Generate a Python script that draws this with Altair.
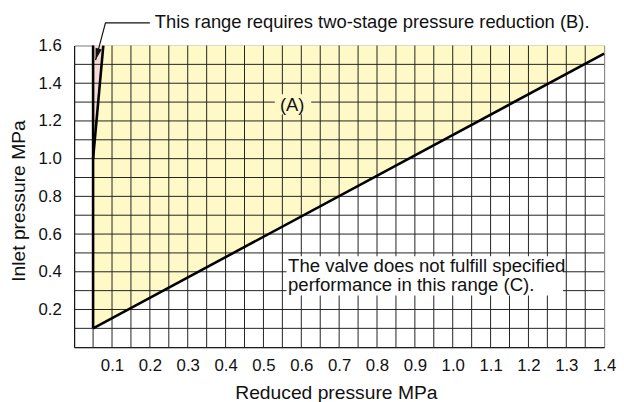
import altair as alt
import pandas as pd

# ---- data ----
x_tick_values = [0.1, 0.2, 0.3, 0.4, 0.5, 0.6, 0.7, 0.8, 0.9, 1.0, 1.1, 1.2, 1.3, 1.4]
y_tick_values = [0.2, 0.4, 0.6, 0.8, 1.0, 1.2, 1.4, 1.6]
x_grid = [0.05, 0.1, 0.15, 0.2, 0.25, 0.3, 0.35, 0.4, 0.45, 0.5, 0.55, 0.6, 0.65,
          0.7, 0.75, 0.8, 0.85, 0.9, 0.95, 1.0, 1.05, 1.1, 1.15, 1.2, 1.25, 1.3, 1.35]
y_grid = [0.1, 0.2, 0.3, 0.4, 0.5, 0.6, 0.7, 0.8, 0.9, 1.0, 1.1, 1.2, 1.3, 1.4, 1.5]

# lower limit line (boundary of range C)
limit_x = [0.05, 1.4]
limit_y = [0.1, 1.557]
# two-stage boundary (range B)
b_x = [0.05, 0.077]
b_y = [1.0, 1.6]
# vertical minimum reduced pressure
min_x = [0.05, 0.05]
min_y = [0.1, 1.6]

# annotations
note_b = "This range requires two-stage pressure reduction (B)."
note_a = "(A)"
note_c = "The valve does not fulfill specified\nperformance in this range (C)."
arrow_x = [0.2, 0.0827, 0.0566]
arrow_y = [1.72, 1.72, 1.523]

FONT = "Liberation Sans"
YELLOW = "#FFF9C8"
PINK = "#F9DAD6"

xs = alt.Scale(domain=[0, 1.4], nice=False, zero=False)
ys = alt.Scale(domain=[0, 1.6], nice=False, zero=False)

# fills
df_a = pd.DataFrame({"x": limit_x, "y": limit_y, "y2": [1.6, 1.6]})
area_a = alt.Chart(df_a).mark_area(color=YELLOW, opacity=1).encode(
    x=alt.X("x:Q", scale=xs,
            axis=alt.Axis(values=x_tick_values, format=".1f", grid=False, ticks=False,
                          tickSize=0, labelPadding=11, labelFontSize=17, labelFont=FONT,
                          labelColor="#111", domainColor="#000", title="Reduced pressure MPa",
                          titleFont=FONT, titleFontSize=19.5, titleFontWeight="normal",
                          titleColor="#111", titleBaseline="alphabetic", titleY=51.5,
                          titleX=265, labelFlush=False)),
    y=alt.Y("y:Q", scale=ys,
            axis=alt.Axis(values=y_tick_values, format=".1f", grid=False, ticks=False,
                          tickSize=0, labelPadding=13, labelFontSize=17, labelFont=FONT,
                          labelColor="#111", domainColor="#000", title="Inlet pressure MPa",
                          titleFont=FONT, titleFontSize=19.5, titleFontWeight="normal",
                          titleColor="#111", titleBaseline="alphabetic", titleX=-50,
                          titleY=157, titleAngle=-90, labelFlush=False)),
    y2="y2:Q",
)

df_b = pd.DataFrame({"x": b_x, "y": b_y, "y2": [1.6, 1.6]})
area_b = alt.Chart(df_b).mark_area(color=PINK, opacity=1).encode(
    x=alt.X("x:Q", scale=xs), y=alt.Y("y:Q", scale=ys), y2="y2:Q")

# grid
vgrid = alt.Chart(pd.DataFrame({"x": x_grid})).mark_rule(color="#222", strokeWidth=1).encode(
    x=alt.X("x:Q", scale=xs))
hgrid = alt.Chart(pd.DataFrame({"y": y_grid})).mark_rule(color="#222", strokeWidth=1).encode(
    y=alt.Y("y:Q", scale=ys))

# knockouts behind labels
ko = pd.DataFrame({"x": [0.53, 0.561], "x2": [0.626, 1.291],
                   "y": [1.236, 0.274], "y2": [1.341, 0.482],
                   "c": [YELLOW, "#FFFFFF"]})
knock = alt.Chart(ko).mark_rect().encode(
    x=alt.X("x:Q", scale=xs), x2="x2:Q", y=alt.Y("y:Q", scale=ys), y2="y2:Q",
    color=alt.Color("c:N", scale=None))

# thick lines
line_c = alt.Chart(pd.DataFrame({"x": limit_x, "y": limit_y})).mark_line(
    color="#000", strokeWidth=2.6).encode(x=alt.X("x:Q", scale=xs), y=alt.Y("y:Q", scale=ys))
line_b = alt.Chart(pd.DataFrame({"x": b_x, "y": b_y})).mark_line(
    color="#000", strokeWidth=2.6).encode(x=alt.X("x:Q", scale=xs), y=alt.Y("y:Q", scale=ys))
line_min = alt.Chart(pd.DataFrame({"x": min_x, "y": min_y})).mark_line(
    color="#000", strokeWidth=2.6).encode(x=alt.X("x:Q", scale=xs), y=alt.Y("y:Q", scale=ys))

# texts
txt_b = alt.Chart(pd.DataFrame({"x": [0.213], "y": [1.694], "t": [note_b]})).mark_text(
    align="left", baseline="alphabetic", font=FONT, fontSize=18.6, color="#111").encode(
    x=alt.X("x:Q", scale=xs), y=alt.Y("y:Q", scale=ys), text="t:N")
txt_a = alt.Chart(pd.DataFrame({"x": [0.576], "y": [1.252], "t": [note_a]})).mark_text(
    align="center", baseline="alphabetic", font=FONT, fontSize=18.6, color="#111").encode(
    x=alt.X("x:Q", scale=xs), y=alt.Y("y:Q", scale=ys), text="t:N")
txt_c = alt.Chart(pd.DataFrame({"x": [0.565], "y": [0.4], "t": [note_c]})).mark_text(
    align="left", baseline="alphabetic", font=FONT, fontSize=18.8, color="#111",
    lineBreak="\n", lineHeight=19).encode(
    x=alt.X("x:Q", scale=xs), y=alt.Y("y:Q", scale=ys), text="t:N")

# arrow
arrow_df = pd.DataFrame({"x": arrow_x, "y": arrow_y, "o": [0, 1, 2]})
arrow_line = alt.Chart(arrow_df).mark_line(color="#111", strokeWidth=1.2).encode(
    x=alt.X("x:Q", scale=xs), y=alt.Y("y:Q", scale=ys), order="o:Q")
head = alt.Chart(pd.DataFrame({"x": [arrow_x[-1]], "y": [arrow_y[-1]]})).mark_point(
    shape="M0,0L-0.27,-1L0.27,-1Z", filled=True, color="#111", opacity=1, size=576,
    angle=15, strokeWidth=0).encode(x=alt.X("x:Q", scale=xs), y=alt.Y("y:Q", scale=ys))

chart = alt.layer(
    area_a, area_b, vgrid, hgrid, knock, line_c, line_b, line_min,
    txt_b, txt_a, txt_c, arrow_line, head
).properties(
    width=536.7, height=305.5,
    autosize=alt.AutoSizeParams(type="none"),
    padding={"left": 67, "top": 35.5, "right": 12, "bottom": 53},
).configure_view(stroke="#777", strokeWidth=1).configure_axis(domainWidth=1)

chart.save("out.html", embed_options={"renderer": "svg", "actions": False})
